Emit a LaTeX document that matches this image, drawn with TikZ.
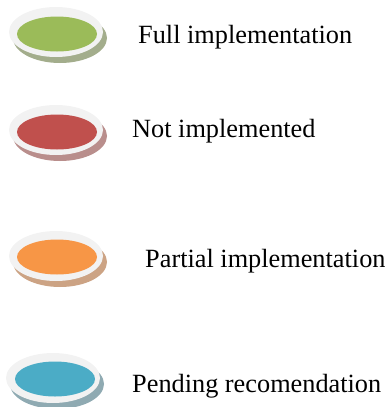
\documentclass[tikz,border=0pt]{standalone}
\usepackage{fontspec}
\setmainfont{Liberation Serif}
\usetikzlibrary{shapes.geometric,positioning}
\definecolor{fullgreen}{HTML}{9BBB59}
\definecolor{notred}{HTML}{C0504D}
\definecolor{partorange}{HTML}{F79646}
\definecolor{pendblue}{HTML}{4BACC6}
\definecolor{fullshade}{HTML}{A3AD8C}
\definecolor{notshade}{HTML}{B98E8C}
\definecolor{partshade}{HTML}{CCA384}
\definecolor{pendshade}{HTML}{8FAAB2}
\definecolor{ringgray}{HTML}{F2F2F2}

\begin{document}
\begin{tikzpicture}[x=1pt,y=-1pt,
  shade/.style={ellipse, minimum width=94pt, minimum height=50pt, inner sep=0pt},
  ring/.style={ellipse, fill=ringgray, minimum width=94pt, minimum height=50pt, inner sep=0pt},
  disc/.style={ellipse, minimum width=80pt, minimum height=35pt, inner sep=0pt},
  legend/.style={anchor=base west, inner sep=0pt, font=\fontsize{26.3}{30}\selectfont}]
\useasboundingbox (0,0) rectangle (391,407);
\node (fullS) [shade, fill=fullshade] at (60,38) {};
\node (fullR) [ring] at (56,32) {};
\node (fullD) [disc, fill=fullgreen] at (57,34) {};
\node (fullL) [legend] at (138,43) {Full implementation};

\node (notS) [shade, fill=notshade] at (60,136) {};
\node (notR) [ring] at (56,130) {};
\node (notD) [disc, fill=notred] at (57,132) {};
\node (notL) [legend] at (132,137) {Not implemented};

\node (partS) [shade, fill=partshade] at (60,262) {};
\node (partR) [ring] at (56,256) {};
\node (partD) [disc, fill=partorange] at (57,257) {};
\node (partL) [legend] at (145,267) {Partial implementation};

\node (pendS) [shade, fill=pendshade] at (57,384) {};
\node (pendR) [ring] at (53,378) {};
\node (pendD) [disc, fill=pendblue] at (55,379) {};
\node (pendL) [legend] at (132,392) {Pending recomendation};
\end{tikzpicture}
\end{document}
